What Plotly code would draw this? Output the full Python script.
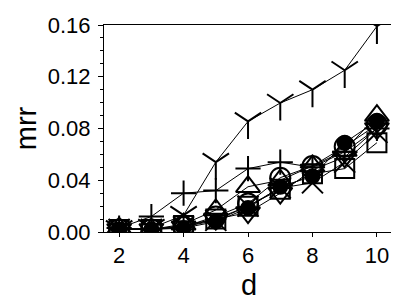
import plotly.graph_objects as go

d = [2, 3, 4, 5, 6, 7, 8, 9, 10]
s_y = [0.002, 0.003, 0.013, 0.054, 0.0855, 0.0997, 0.110, 0.125, 0.159]
s_plus = [0.003, 0.012, 0.030, 0.032, 0.049, 0.054, 0.050, 0.062, 0.080]
s_tri_up = [0.003, 0.002, 0.006, 0.017, 0.035, 0.040, 0.051, 0.063, 0.090]
s_circle = [0.002, 0.002, 0.004, 0.012, 0.022, 0.042, 0.051, 0.066, 0.083]
s_dot = [0.002, 0.002, 0.003, 0.008, 0.0185, 0.035, 0.043, 0.069, 0.086]
s_square = [0.002, 0.002, 0.005, 0.010, 0.020, 0.033, 0.045, 0.049, 0.069]
s_x = [0.002, 0.002, 0.004, 0.009, 0.020, 0.034, 0.038, 0.054, 0.077]
s_tri_down = [0.002, 0.002, 0.004, 0.010, 0.015, 0.030, 0.048, 0.058, 0.080]

series = [
    (s_y, "y-down", 22),
    (s_plus, "cross-thin", 18),
    (s_tri_up, "triangle-up-open", 21),
    (s_circle, "circle-open", 20),
    (s_dot, "circle", 14),
    (s_square, "square-open", 19),
    (s_x, "x-thin", 21),
    (s_tri_down, "triangle-down-open", 21),
]

fig = go.Figure()
for vals, sym, sz in series:
    fig.add_trace(go.Scatter(
        x=d, y=vals, mode="lines+markers",
        line=dict(color="black", width=1),
        marker=dict(symbol=sym, size=sz, color="black",
                    line=dict(color="black", width=2)),
        showlegend=False,
    ))

fig.update_layout(
    width=399, height=300,
    margin=dict(l=96, r=13, t=17, b=76),
    plot_bgcolor="white", paper_bgcolor="white",
    font=dict(family="Liberation Sans, Arial, sans-serif", color="black"),
    annotations=[
        dict(text="d", xref="paper", yref="paper", x=0.5, y=-0.256,
             xanchor="center", yanchor="middle", showarrow=False,
             font=dict(size=29, color="black")),
        dict(text="mrr", xref="paper", yref="paper", x=-0.27, y=0.5,
             xanchor="center", yanchor="middle", showarrow=False,
             textangle=-90, font=dict(size=29, color="black")),
    ],
)
fig.update_xaxes(
    range=[1.53, 10.53], tickvals=[2, 4, 6, 8, 10],
    ticks="outside", ticklen=4, tickwidth=1, tickcolor="black",
    showline=True, linecolor="black", linewidth=1, mirror=True,
    showgrid=False, zeroline=False, automargin=False,
    tickfont=dict(size=22), ticklabelstandoff=0,
)
fig.update_yaxes(
    range=[0, 0.16], tickvals=[0, 0.04, 0.08, 0.12, 0.16],
    tickformat=".2f",
    ticks="outside", ticklen=5, tickwidth=1, tickcolor="black",
    minor=dict(dtick=0.01, ticks="outside", ticklen=3, tickcolor="black"),
    showline=True, linecolor="black", linewidth=1, mirror=True,
    showgrid=False, zeroline=False, automargin=False,
    tickfont=dict(size=22), ticklabelstandoff=3,
)

fig.write_html("out.html")
